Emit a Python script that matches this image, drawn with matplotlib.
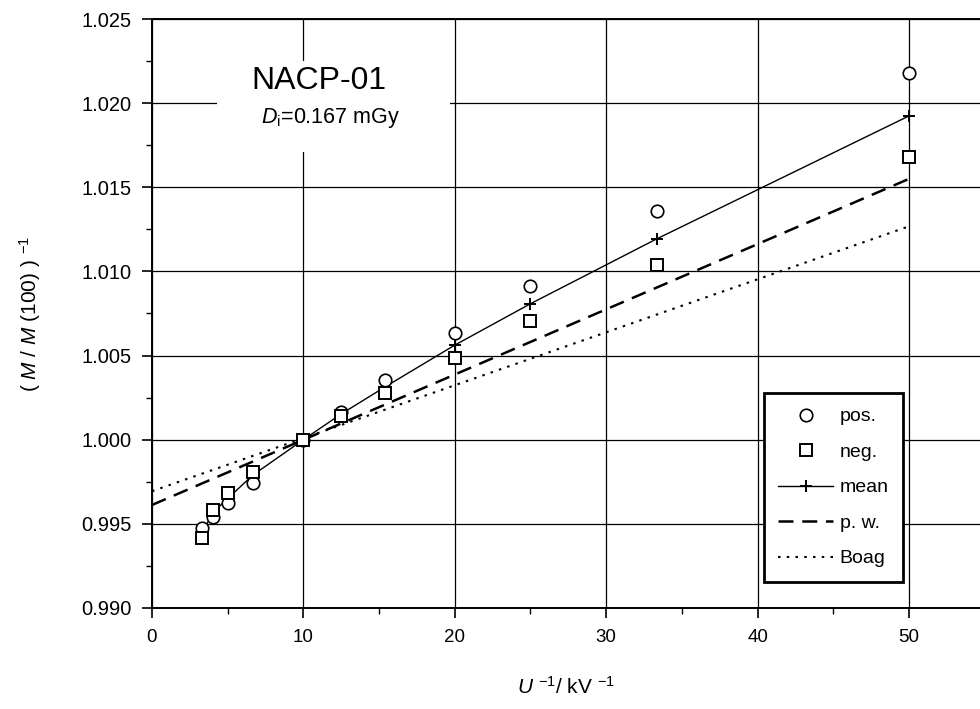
import numpy as np
import matplotlib
matplotlib.use('Agg')
import matplotlib.pyplot as plt
from matplotlib.patches import Rectangle

# fonts: Arial-like, italic symbols in math text
matplotlib.rcParams['font.family'] = 'Liberation Sans'
matplotlib.rcParams['mathtext.fontset'] = 'custom'
matplotlib.rcParams['mathtext.rm'] = 'Liberation Sans'
matplotlib.rcParams['mathtext.it'] = 'Liberation Sans:italic'

# data
inv_U = [3.33, 4.0, 5.0, 6.67, 10.0, 12.5, 15.4, 20.0, 25.0, 33.33, 50.0]
pos = [0.99474, 0.99542, 0.99621, 0.99745, 1.0000, 1.00167, 1.00353, 1.00635, 1.00914, 1.01358, 1.02179]
neg = [0.99417, 0.99581, 0.99681, 0.99810, 1.0000, 1.00141, 1.00278, 1.00486, 1.00705, 1.01038, 1.01677]
mean = [0.99445, 0.99565, 0.99651, 0.99790, 1.0000, 1.00153, 1.00314, 1.00562, 1.00808, 1.01193, 1.01924]

pw_x = [0.0, 50.0]
pw_y = [0.99612, 1.01550]
boag_x = [0.0, 50.0]
boag_y = [0.99694, 1.01268]

fig = plt.figure(figsize=(9.8, 7.09), dpi=100)
ax = fig.add_axes([0.1551, 0.1425, 0.8449, 0.8307])

ax.plot(inv_U, mean, color='black', lw=1.0, marker='+', ms=9, mew=1.4, label='mean', zorder=4)
ax.plot(inv_U, pos, ls='none', marker='o', ms=9, mfc='white', mec='black', mew=1.2, label='pos.', zorder=5)
ax.plot(inv_U, neg, ls='none', marker='s', ms=8.5, mfc='white', mec='black', mew=1.4, label='neg.', zorder=5)
ax.plot(pw_x, pw_y, color='black', lw=1.8, dashes=(6, 3.5), label='p. w.', zorder=3)
ax.plot(boag_x, boag_y, color='black', lw=1.5, dashes=(1.2, 3), label='Boag', zorder=3)

ax.set_xlim(0, 54.69)
ax.set_ylim(0.990, 1.025)
ax.set_xticks(np.arange(0, 51, 10))
ax.set_xticks(np.arange(5, 55, 10), minor=True)
ax.set_yticks(np.arange(0.990, 1.0251, 0.005))
ax.set_yticks(np.arange(0.9925, 1.025, 0.005), minor=True)
ax.set_yticklabels(['%.3f' % v for v in np.arange(0.990, 1.0251, 0.005)])
ax.grid(True, which='major', color='black', lw=0.9)
ax.set_axisbelow(True)

ax.tick_params(which='major', direction='out', length=7, width=1.2, pad=8)
ax.tick_params(axis='y', labelsize=14.5)
ax.tick_params(axis='x', labelsize=13.5)
ax.tick_params(which='minor', direction='out', length=4, width=1.0)
for s in ['left', 'bottom', 'top']:
    ax.spines[s].set_linewidth(1.4)
ax.spines['right'].set_visible(False)

ax.set_xlabel('$U$ $^{-1}$/ kV $^{-1}$', fontsize=15, labelpad=22)
ax.set_ylabel('( $M$ / $M$ (100) ) $^{-1}$', fontsize=15, labelpad=27)

# white patch behind the annotation (hides grid)
ax.add_patch(Rectangle((4.3, 1.0171), 15.4, 0.0054, facecolor='white', edgecolor='none', zorder=2))
ax.text(11.0, 1.02134, 'NACP-01', fontsize=23, ha='center', va='center', zorder=6)
ax.text(11.8, 1.0191, '$D_{\\mathrm{i}}$=0.167 mGy', fontsize=15.5, ha='center', va='center', zorder=6)

handles, labels = ax.get_legend_handles_labels()
order = [1, 2, 0, 3, 4]
leg = ax.legend([handles[i] for i in order], [labels[i] for i in order],
                loc='lower left', bbox_to_anchor=(0.739, 0.044), borderaxespad=0, fontsize=14,
                frameon=True, fancybox=False, framealpha=1, edgecolor='black',
                handlelength=2.8, handletextpad=0.35, labelspacing=0.92, borderpad=0.75)
leg.get_frame().set_linewidth(2.0)

fig.savefig('out.png', dpi=100)
